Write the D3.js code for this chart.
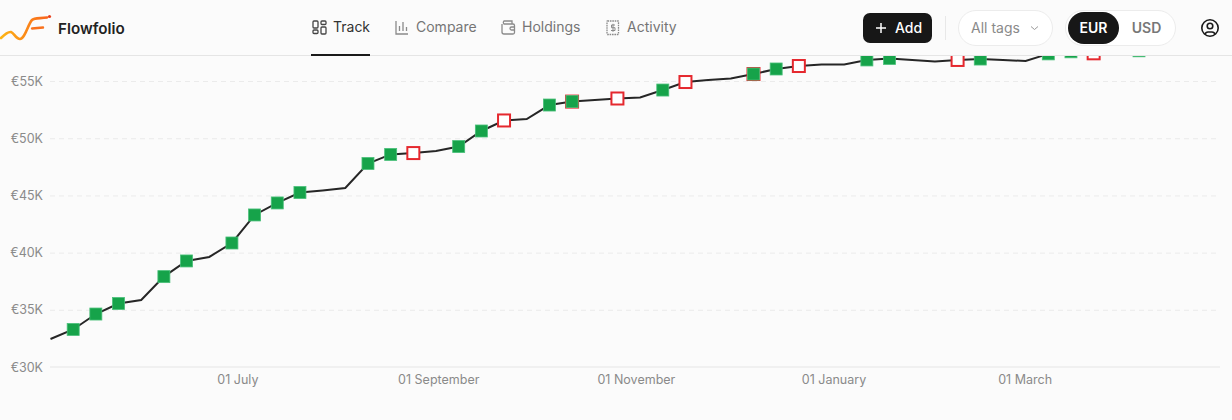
<!DOCTYPE html>
<html>
<head>
<meta charset="utf-8">
<script src="https://cdn.jsdelivr.net/npm/d3@7"></script>
<style>
  html, body { margin: 0; padding: 0; background: #fbfbfb; overflow: hidden; }
  svg { display: block; font-family: Inter, "Noto Sans", sans-serif; }
  .axisLabel text { font-size: 12.5px; fill: #8a8a8a; font-family: Inter, sans-serif; }
  .tab { font-size: 14px; fill: #757575; }
</style>
</head>
<body>
<svg width="1232" height="420"></svg>
<script>
//## DATA ##
const dates = ['2022-05-04','2022-05-11','2022-05-18','2022-05-25','2022-06-01','2022-06-08','2022-06-15','2022-06-22','2022-06-29',
  '2022-07-06','2022-07-13','2022-07-20','2022-07-27','2022-08-03','2022-08-10','2022-08-17','2022-08-24','2022-08-31',
  '2022-09-07','2022-09-14','2022-09-21','2022-09-28','2022-10-05','2022-10-12','2022-10-19','2022-10-26','2022-11-02',
  '2022-11-09','2022-11-16','2022-11-23','2022-11-30','2022-12-07','2022-12-14','2022-12-21','2022-12-28','2023-01-04',
  '2023-01-11','2023-01-18','2023-01-25','2023-02-01','2023-02-08','2023-02-15','2023-02-22','2023-03-01','2023-03-08',
  '2023-03-15','2023-03-22','2023-03-29','2023-04-05']
const values = [32450,33280,34630,35550,35860,37900,39270,39620,40840,
  43290,44340,45250,45430,45650,47790,48580,48700,48880,
  49270,50630,51550,51680,52900,53200,53340,53470,53560,
  54210,54910,55090,55220,55610,56050,56310,56440,56440,
  56840,56970,56840,56710,56840,56920,56840,56750,57370,
  57550,57420,57500,57640]
const buyDates = ['2022-05-11','2022-05-18','2022-05-25','2022-06-08','2022-06-15','2022-06-29','2022-07-06','2022-07-13','2022-07-20',
  '2022-08-10','2022-08-17','2022-09-07','2022-09-14','2022-10-05','2022-10-12','2022-11-09','2022-12-07','2022-12-14',
  '2023-01-11','2023-01-18','2023-02-15','2023-03-08','2023-03-15','2023-04-05']
const sellDates = ['2022-08-24','2022-09-21','2022-10-12','2022-10-26','2022-11-16','2022-12-07','2022-12-21','2023-02-08','2023-03-22']
const yTicks = [30000,35000,40000,45000,50000,55000]
const xTicks = ['2022-07-01','2022-09-01','2022-11-01','2023-01-01','2023-03-01']
const tabs = ['Track','Compare','Holdings','Activity']

//## D3 VARIABLES ##
const svg = d3.select('svg')
const parseDate = d3.utcParse('%Y-%m-%d')
const series = dates.map((d, i) => ({ date: parseDate(d), value: values[i] }))
const valueAt = d => values[dates.indexOf(d)]

const scaleX = d3.scaleUtc()
  .domain([parseDate('2022-05-04'), parseDate('2023-04-30')])
  .range([50.5, 1220])
const scaleY = d3.scaleLinear()
  .domain([30000, 55000])
  .range([367, 81])

//## AXES ##
const yAxis = d3.axisLeft(scaleY)
  .tickValues(yTicks)
  .tickFormat(d => '€' + d / 1000 + 'K')
  .tickSize(0)
  .tickPadding(7)

const yAxisGroup = svg.append('g')
  .attr('class', 'axisLabel')
  .attr('transform', 'translate(50,0)')
  .call(yAxis)
yAxisGroup.select('.domain').remove()
yAxisGroup.selectAll('.tick').filter(d => d > 30000).append('line')
  .attr('x2', 1170)
  .attr('stroke', '#ebebeb')
  .attr('stroke-dasharray', '5,4')

const xAxis = d3.axisBottom(scaleX)
  .tickValues(xTicks.map(parseDate))
  .tickFormat(d3.utcFormat('%d %B'))
  .tickSize(0)
  .tickPadding(8)

const xAxisGroup = svg.append('g')
  .attr('class', 'axisLabel')
  .attr('transform', 'translate(0,367)')
  .call(xAxis)
xAxisGroup.select('.domain')
  .attr('stroke', '#e5e5e5')
  .attr('d', 'M0,0H1170')
  .attr('transform', 'translate(50,0)')
xAxisGroup.selectAll('.tick text').attr('dx', -1)

//## LINE & MARKERS ##
const line = d3.line()
  .x(d => scaleX(d.date))
  .y(d => scaleY(d.value))

svg.append('path')
  .datum(series)
  .attr('fill', 'none')
  .attr('stroke', '#262626')
  .attr('stroke-width', 2)
  .attr('d', line)

svg.selectAll('.sell').data(sellDates)
  .enter().append('rect')
    .attr('class', 'sell')
    .attr('x', d => scaleX(parseDate(d)) - 6)
    .attr('y', d => scaleY(valueAt(d)) - 6)
    .attr('width', 12)
    .attr('height', 12)
    .attr('fill', '#fff')
    .attr('stroke', '#e5282e')
    .attr('stroke-width', 2)

svg.selectAll('.buy').data(buyDates)
  .enter().append('rect')
    .attr('class', 'buy')
    .attr('x', d => scaleX(parseDate(d)) - 6)
    .attr('y', d => scaleY(valueAt(d)) - 6)
    .attr('width', 12)
    .attr('height', 12)
    .attr('fill', '#16a34a')
    .attr('stroke', '#4ac07a')
    .attr('stroke-width', 0.8)

//## HEADER ##
const header = svg.append('g')
header.append('rect').attr('width', 1232).attr('height', 55).attr('fill', '#fbfbfb')
header.append('line').attr('x1', 0).attr('x2', 1232).attr('y1', 55.5).attr('y2', 55.5).attr('stroke', '#e5e5e5')

// Logo
const logoGradient = svg.append('defs').append('linearGradient').attr('id', 'logoGradient')
logoGradient.append('stop').attr('offset', '0%').attr('stop-color', '#fdb515')
logoGradient.append('stop').attr('offset', '100%').attr('stop-color', '#f9651c')
header.append('path')
  .attr('d', 'M1,38 C5,34 8,31.5 11,32 C14,33 16,39 20,39 C25,39 28,24 32,20 C34,18 38,18.5 47,17.5')
  .attr('fill', 'none').attr('stroke', 'url(#logoGradient)').attr('stroke-width', 2.6).attr('stroke-linecap', 'round')
header.append('path')
  .attr('d', 'M32,28.5 L43,27.5')
  .attr('fill', 'none').attr('stroke', '#f9711c').attr('stroke-width', 2.4).attr('stroke-linecap', 'round')
header.append('circle').attr('cx', 49.5).attr('cy', 16.5).attr('r', 1.6).attr('fill', '#e8401c')
header.append('text').text('Flowfolio')
  .attr('x', 58).attr('y', 33.5)
  .style('font-size', '15.2px').style('font-weight', 600).attr('fill', '#222')

// Tabs
const tabX = [333, 416, 522, 627]
header.selectAll('.tab').data(tabs)
  .enter().append('text')
    .attr('class', 'tab')
    .attr('x', (d, i) => tabX[i])
    .attr('y', 32)
    .style('fill', (d, i) => i === 0 ? '#333' : '#757575')
    .text(d => d)
header.append('rect').attr('x', 311).attr('y', 54).attr('width', 59).attr('height', 2).attr('fill', '#1a1a1a')

const icons = header.append('g').attr('fill', 'none').attr('stroke-width', 1.3)
const trackIcon = icons.append('g').attr('stroke', '#444')
trackIcon.append('rect').attr('x', 313).attr('y', 21).attr('width', 5).attr('height', 7).attr('rx', 1)
trackIcon.append('rect').attr('x', 321).attr('y', 21).attr('width', 5).attr('height', 3.5).attr('rx', 1)
trackIcon.append('rect').attr('x', 313).attr('y', 30).attr('width', 5).attr('height', 3.5).attr('rx', 1)
trackIcon.append('rect').attr('x', 321).attr('y', 27).attr('width', 5).attr('height', 7).attr('rx', 1)
icons.append('path').attr('stroke', '#8a8a8a')
  .attr('d', 'M396,21V34H408M399.5,31V26M403,31V22M406.5,31V27')
icons.append('path').attr('stroke', '#8a8a8a')
  .attr('d', 'M502,24V32a2,2 0 0 0 2,2H513a1.5,1.5 0 0 0 1.5,-1.5V25.5a1.5,1.5 0 0 0 -1.5,-1.5H504a2,2 0 0 1 0,-3H512V24M514.5,27H511.5a1.5,1.5 0 0 0 0,3H514.5')
icons.append('rect').attr('stroke', '#8a8a8a').attr('stroke-dasharray', '1.6,0.8')
  .attr('x', 607).attr('y', 21).attr('width', 11.5).attr('height', 13.5).attr('rx', 0.5)
icons.append('path').attr('stroke', '#8a8a8a').attr('stroke-width', 1)
  .attr('d', 'M615,25H611.5V27.7H615V30.5H611M613,23.8V31.8')

// Add button
header.append('rect').attr('x', 863).attr('y', 13).attr('width', 69).attr('height', 30).attr('rx', 7).attr('fill', '#171717')
header.append('path').attr('d', 'M881,23V33M876,28H886').attr('stroke', '#fff').attr('stroke-width', 1.5)
header.append('text').text('Add')
  .attr('x', 895).attr('y', 33)
  .style('font-size', '14px').style('font-weight', 500).attr('fill', '#fff')
header.append('line').attr('x1', 945.5).attr('x2', 945.5).attr('y1', 16).attr('y2', 40).attr('stroke', '#e8e8e8')

// Tag filter
header.append('rect').attr('x', 958.5).attr('y', 10.5).attr('width', 94).attr('height', 35).attr('rx', 17.5)
  .attr('fill', '#fff').attr('stroke', '#ececec')
header.append('text').text('All tags')
  .attr('x', 971).attr('y', 33)
  .style('font-size', '14px').attr('fill', '#8a8a8a')
header.append('path').attr('d', 'M1031,26.5L1034.5,29.5L1038,26.5').attr('fill', 'none').attr('stroke', '#9a9a9a').attr('stroke-width', 1)

// Currency switch
header.append('rect').attr('x', 1065.5).attr('y', 10.5).attr('width', 110).attr('height', 35).attr('rx', 17.5)
  .attr('fill', '#fff').attr('stroke', '#ececec')
header.append('rect').attr('x', 1068).attr('y', 12).attr('width', 51).attr('height', 32).attr('rx', 16).attr('fill', '#171717')
header.append('text').text('EUR')
  .attr('x', 1093.5).attr('y', 33).attr('text-anchor', 'middle')
  .style('font-size', '14px').style('font-weight', 600).attr('fill', '#fff')
header.append('text').text('USD')
  .attr('x', 1146.5).attr('y', 33).attr('text-anchor', 'middle')
  .style('font-size', '14px').style('font-weight', 600).attr('fill', '#777')

// User icon
const userIcon = header.append('g').attr('fill', 'none').attr('stroke', '#1a1a1a').attr('stroke-width', 1.6)
userIcon.append('circle').attr('cx', 1210).attr('cy', 28).attr('r', 8.2)
userIcon.append('circle').attr('cx', 1210).attr('cy', 26).attr('r', 2.8)
userIcon.append('path').attr('d', 'M1205,34.5C1205.5,32.5 1207,32 1208,32H1212C1213,32 1214.5,32.5 1215,34.5')
</script>
</body>
</html>
